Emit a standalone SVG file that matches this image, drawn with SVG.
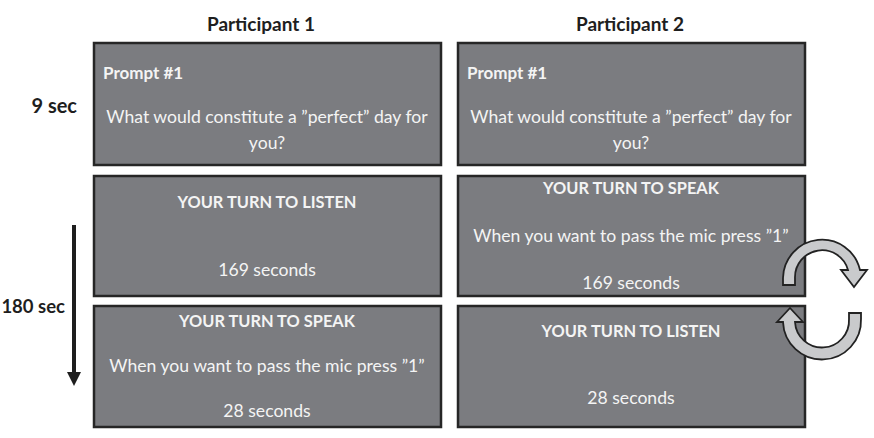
<svg xmlns="http://www.w3.org/2000/svg" width="874" height="438" viewBox="0 0 874 438">
<style>
.box{fill:#7b7c80;stroke:#262626;stroke-width:2.5}
.t{font-family:Lato,"Liberation Sans",sans-serif;font-size:17.6px;fill:#f4f4f4;text-anchor:middle}
.b{font-family:Lato,"Liberation Sans",sans-serif;font-size:16.4px;font-weight:bold;fill:#f4f4f4;text-anchor:middle}
.p{font-family:Lato,"Liberation Sans",sans-serif;font-size:17px;font-weight:bold;fill:#f4f4f4}
.h{font-family:Lato,"Liberation Sans",sans-serif;font-size:19px;font-weight:bold;fill:#1e1e1e;text-anchor:middle}
.lab{font-family:Lato,"Liberation Sans",sans-serif;font-size:18.5px;font-weight:bold;fill:#1e1e1e;text-anchor:end}
.cyc{fill:#c9cacc;stroke:#222;stroke-width:1.8;stroke-linejoin:miter}
</style>
<rect width="874" height="438" fill="#fff"/>
<g id="headers">
<text class="h" x="261" y="31">Participant 1</text>
<text class="h" x="630" y="31">Participant 2</text>
</g>
<g id="time-labels">
<text class="lab" x="77" y="113" style="font-size:20px">9 sec</text>
<text class="lab" x="65" y="313">180 sec</text>
</g>
<g id="p1-prompt">
<rect class="box" x="94" y="43" width="347" height="122"/>
<text class="p" x="103" y="79">Prompt #1</text>
<text class="t" x="267" y="123">What would constitute a ”perfect” day for</text>
<text class="t" x="267" y="149">you?</text>
</g>
<g id="p2-prompt">
<rect class="box" x="458" y="43" width="347" height="122"/>
<text class="p" x="467" y="79">Prompt #1</text>
<text class="t" x="631" y="123">What would constitute a ”perfect” day for</text>
<text class="t" x="631" y="149">you?</text>
</g>
<g id="p1-listen">
<rect class="box" x="94" y="176" width="347" height="120"/>
<text class="b" x="267" y="208">YOUR TURN TO LISTEN</text>
<text class="t" x="267" y="276">169 seconds</text>
</g>
<g id="p2-speak">
<rect class="box" x="458" y="176" width="347" height="120"/>
<text class="b" x="631" y="194">YOUR TURN TO SPEAK</text>
<text class="t" x="631" y="242">When you want to pass the mic press ”1”</text>
<text class="t" x="631" y="289">169 seconds</text>
</g>
<g id="p1-speak">
<rect class="box" x="94" y="306" width="347" height="121"/>
<text class="b" x="267" y="327">YOUR TURN TO SPEAK</text>
<text class="t" x="267" y="372">When you want to pass the mic press ”1”</text>
<text class="t" x="267" y="417">28 seconds</text>
</g>
<g id="p2-listen">
<rect class="box" x="458" y="306" width="347" height="121"/>
<text class="b" x="631" y="337">YOUR TURN TO LISTEN</text>
<text class="t" x="631" y="404">28 seconds</text>
</g>
<g id="connectors">
<line x1="74" y1="225" x2="74" y2="373" stroke="#1e1e1e" stroke-width="4"/>
<polygon points="67,372 81,372 74,386" fill="#1e1e1e"/>
<path class="cyc" d="M783 285 L783 278 A39 39 0 0 1 860 270 L867 270 L854 287 L841 270 L848 270 A27 27 0 0 0 795 278 L795 285 Z"/>
<path class="cyc" d="M861 313 L861 319 A39 39 0 0 1 783 322 L777 322 L790 308 L803 322 L795 322 A27 27 0 0 0 849 319 L849 313 Z"/>
</g>
</svg>
